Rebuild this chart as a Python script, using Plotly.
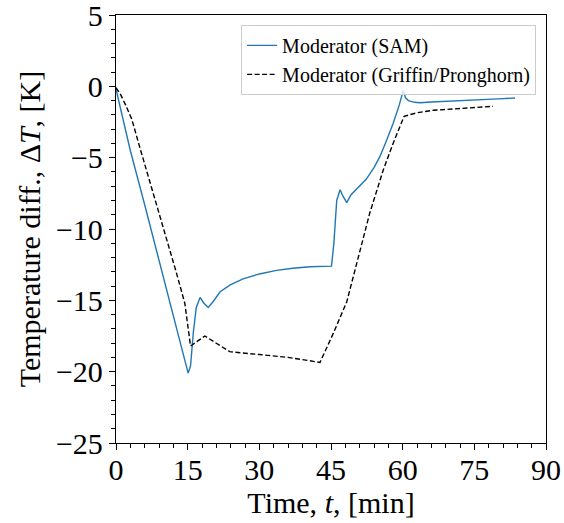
import plotly.graph_objects as go

sam_t = [0, 0.5, 1.2, 3, 6, 9, 12, 14, 15.1, 15.6, 16.2, 16.8, 17.6, 18.4, 19.3, 20.3, 21.8, 24, 26.6, 30,
         33.6, 37, 40.6, 45.1, 45.6, 46.2, 46.9, 47.5, 48.3, 49.2, 50.4, 52.4, 54, 55.2, 56.5, 58, 59.3,
         60.1, 60.6, 61.2, 62.5, 63.6, 66, 69.9, 75, 80, 83.5]
sam_dT = [-0.2, -0.9, -2.1, -4.5, -8.3, -12.2, -16.1, -18.7, -20.1, -19.6, -17.2, -15.5, -14.8, -15.2, -15.5,
          -15.1, -14.4, -13.9, -13.5, -13.15, -12.9, -12.75, -12.65, -12.6, -11.0, -8.0, -7.25, -7.7, -8.15,
          -7.6, -7.2, -6.5, -5.7, -4.95, -3.9, -2.6, -1.3, -0.3, -0.8, -1.0, -1.12, -1.15, -1.1, -1.05,
          -0.95, -0.88, -0.82]

gp_t = [0, 1, 2, 3.3, 5, 6.4, 8.5, 10.6, 12.5, 14.4, 15.6, 18.6, 23.8, 30, 36, 42.7, 45.5, 48.3, 51,
        53.1, 55.9, 58, 60.3, 63, 66.4, 72, 78.9]
gp_dT = [-0.1, -0.6, -1.3, -2.3, -4.3, -5.9, -8.2, -10.6, -12.9, -15.2, -18.2, -17.5, -18.6, -18.8, -19.0,
         -19.35, -17.3, -15.1, -11.6, -8.9, -5.9, -4.0, -2.1, -1.85, -1.68, -1.55, -1.4]

x_ticks = [0, 15, 30, 45, 60, 75, 90]
y_ticks = [5, 0, -5, -10, -15, -20, -25]

font = "Liberation Serif, Times New Roman, serif"

fig = go.Figure()
fig.add_trace(go.Scatter(x=sam_t, y=sam_dT, mode="lines", name="Moderator (SAM)",
                         line=dict(color="#1f77b4", width=1.4)))
fig.add_trace(go.Scatter(x=gp_t, y=gp_dT, mode="lines", name="Moderator (Griffin/Pronghorn)",
                         line=dict(color="black", width=1.4, dash="5px,2.5px")))

axis_common = dict(showgrid=False, zeroline=False, showline=True, linecolor="black", linewidth=1.3,
                   mirror=True, ticks="outside", ticklen=6, tickwidth=1.3, tickcolor="black",
                   automargin=False, ticklabeloverflow="allow",
                   tickfont=dict(family=font, size=30, color="black"))

fig.update_xaxes(range=[0, 90], tickvals=x_ticks, ticktext=[str(v) for v in x_ticks],
                 ticklabelstandoff=-6,
                 minor=dict(dtick=3, ticks="outside", ticklen=4, tickwidth=1, tickcolor="black"),
                 title=dict(text="Time, <i>t</i>, [min]", font=dict(family=font, size=30, color="black"),
                            standoff=4),
                 **axis_common)
fig.update_yaxes(range=[-25, 5], tickvals=y_ticks,
                 ticktext=[("\u2212" + str(-v)) if v < 0 else str(v) for v in y_ticks],
                 minor=dict(dtick=1, ticks="outside", ticklen=4, tickwidth=1, tickcolor="black"),
                 title=dict(text="Temperature diff., \u0394<i>T</i>, [K]",
                            font=dict(family=font, size=30, color="black"), standoff=6),
                 **axis_common)

fig.update_layout(
    width=564, height=523,
    margin=dict(l=116, r=18, t=15, b=80),
    paper_bgcolor="white", plot_bgcolor="white",
    font=dict(family=font, color="black"),
    showlegend=True,
    legend=dict(x=0.977, y=0.977, xanchor="right", yanchor="top",
                bgcolor="rgba(255,255,255,0.8)", bordercolor="#cccccc", borderwidth=1,
                font=dict(family=font, size=20, color="black"), tracegroupgap=0),
)

fig.write_html("out.html")
